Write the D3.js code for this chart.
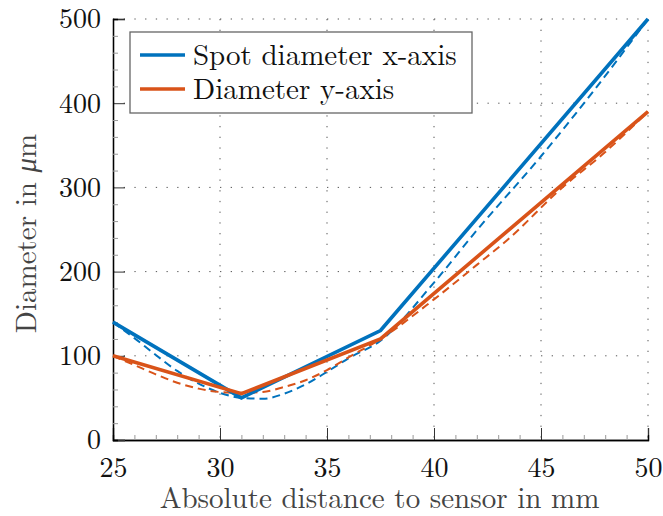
<!DOCTYPE html>
<html>
<head>
<meta charset="utf-8">
<script src="https://cdn.jsdelivr.net/npm/d3@7"></script>
<style>
  body { margin: 0; background: #fff; }
</style>
</head>
<body>
<div id="chart"></div>
<script>
// measured points (solid) and fitted curve readings (dashed)
var measX = [25, 31, 37.5, 50];
var spotX = [140, 50, 130, 500];
var diamY = [100, 55, 120, 390];

var fitXBlue = [25, 26, 27, 28, 29, 30, 31, 32, 33, 34, 35, 36, 37.5, 40, 42, 45, 47.5, 50];
var fitBlue  = [140, 121, 101, 82, 67, 56, 50, 49, 55, 66, 81, 97, 118, 187, 249, 337, 416, 500];
var fitXRed  = [25, 26, 27, 28, 29, 30, 31, 32, 33, 34, 35, 36, 37.5, 40, 42, 43.4, 46, 48, 50];
var fitRed   = [100, 89, 78, 68, 61, 57, 56, 57, 63, 71, 83, 98, 120, 167, 208, 237, 300, 342, 390];

var xTicks = [25, 30, 35, 40, 45, 50];
var yTicks = [0, 100, 200, 300, 400, 500];
var legendLabels = ["Spot diameter x-axis", "Diameter y-axis"];

var blue = "#0072BD", red = "#D95319";
var FONT = "'Latin Modern Roman'";

var W = 663, H = 516;
var margin = {top: 19, right: 15, bottom: 76, left: 113},
    width = W - margin.left - margin.right,
    height = H - margin.top - margin.bottom;

var svg = d3.select("#chart").append("svg")
    .attr("width", W)
    .attr("height", H);

var g = svg.append("g")
    .attr("transform", "translate(" + margin.left + "," + margin.top + ")");

var x = d3.scaleLinear().domain([25, 50]).range([0, width]);
var y = d3.scaleLinear().domain([0, 500]).range([height, 0]);

// dotted grid
g.append("g").selectAll("line.gx")
  .data(xTicks.slice(1))
  .enter().append("line")
    .attr("x1", function(d) { return x(d); })
    .attr("x2", function(d) { return x(d); })
    .attr("y1", 0).attr("y2", height)
    .attr("stroke", "#555").attr("stroke-width", 1)
    .attr("stroke-dasharray", "1.3,9.4");

g.append("g").selectAll("line.gy")
  .data(yTicks.slice(1))
  .enter().append("line")
    .attr("y1", function(d) { return y(d); })
    .attr("y2", function(d) { return y(d); })
    .attr("x1", 0).attr("x2", width)
    .attr("stroke", "#555").attr("stroke-width", 1)
    .attr("stroke-dasharray", "1.3,9.4");

// axes
var xAxis = g.append("g")
    .attr("transform", "translate(0," + height + ")")
    .call(d3.axisBottom(x).tickValues(xTicks).tickSize(-12).tickPadding(17).tickFormat(d3.format("d")));
var xMinor = g.append("g")
    .attr("transform", "translate(0," + height + ")")
    .call(d3.axisBottom(x).tickValues(d3.range(26, 50, 1).filter(function(v) { return v % 5 != 0; })).tickSize(-5).tickFormat(""));

var yAxis = g.append("g")
    .call(d3.axisLeft(y).tickValues(yTicks).tickSize(-12).tickPadding(12).tickFormat(d3.format("d")));
var yMinor = g.append("g")
    .call(d3.axisLeft(y).tickValues(d3.range(20, 500, 20).filter(function(v) { return v % 100 != 0; })).tickSize(-5).tickFormat(""));

[xAxis, yAxis, xMinor, yMinor].forEach(function(a) {
  a.select(".domain").attr("stroke", "#000").attr("stroke-width", 1.3);
  a.selectAll(".tick line").attr("stroke", "#333").attr("stroke-width", 1);
  a.selectAll("text").attr("font-size", 28).attr("fill", "#111")
    .style("font-family", FONT);
});
xMinor.selectAll(".tick line").attr("stroke", "#999");
yMinor.selectAll(".tick line").attr("stroke", "#999");

// lines
var line = d3.line()
    .x(function(d) { return x(d[0]); })
    .y(function(d) { return y(d[1]); });
var curve = d3.line()
    .curve(d3.curveMonotoneX)
    .x(function(d) { return x(d[0]); })
    .y(function(d) { return y(d[1]); });

var plot = g.append("g");

plot.append("path")
    .datum(d3.zip(fitXBlue, fitBlue))
    .attr("fill", "none").attr("stroke", blue)
    .attr("stroke-width", 2).attr("stroke-dasharray", "8,5")
    .attr("d", curve);
plot.append("path")
    .datum(d3.zip(fitXRed, fitRed))
    .attr("fill", "none").attr("stroke", red)
    .attr("stroke-width", 2).attr("stroke-dasharray", "8,5")
    .attr("d", curve);

plot.append("path")
    .datum(d3.zip(measX, spotX))
    .attr("fill", "none").attr("stroke", blue)
    .attr("stroke-width", 3.6).attr("stroke-linejoin", "miter")
    .attr("d", line);
plot.append("path")
    .datum(d3.zip(measX, diamY))
    .attr("fill", "none").attr("stroke", red)
    .attr("stroke-width", 3.6).attr("stroke-linejoin", "miter")
    .attr("d", line);

// legend
var leg = svg.append("g").attr("transform", "translate(130,32)");
leg.append("rect")
    .attr("width", 342).attr("height", 81)
    .attr("fill", "#fff").attr("stroke", "#666").attr("stroke-width", 1.3);
var colors = [blue, red];
legendLabels.forEach(function(lbl, i) {
  var yy = 23 + i * 34;
  leg.append("line")
    .attr("x1", 10).attr("x2", 55).attr("y1", yy).attr("y2", yy)
    .attr("stroke", colors[i]).attr("stroke-width", 3.6);
  leg.append("text")
    .attr("x", 63).attr("y", yy + 10)
    .attr("font-size", 29).attr("fill", "#111")
    .style("font-family", FONT)
    .text(lbl);
});

// axis labels
svg.append("text")
    .attr("x", margin.left + width / 2 - 1).attr("y", 508)
    .attr("text-anchor", "middle")
    .attr("font-size", 29).attr("fill", "#444")
    .style("font-family", FONT)
    .text("Absolute distance to sensor in mm");

svg.append("text")
    .attr("transform", "translate(36," + (margin.top + height / 2 + 4) + ") rotate(-90)")
    .attr("text-anchor", "middle")
    .attr("font-size", 29).attr("fill", "#444")
    .style("font-family", FONT)
    .html("Diameter in <tspan font-style='italic'>μ</tspan>m");
</script>
</body>
</html>
